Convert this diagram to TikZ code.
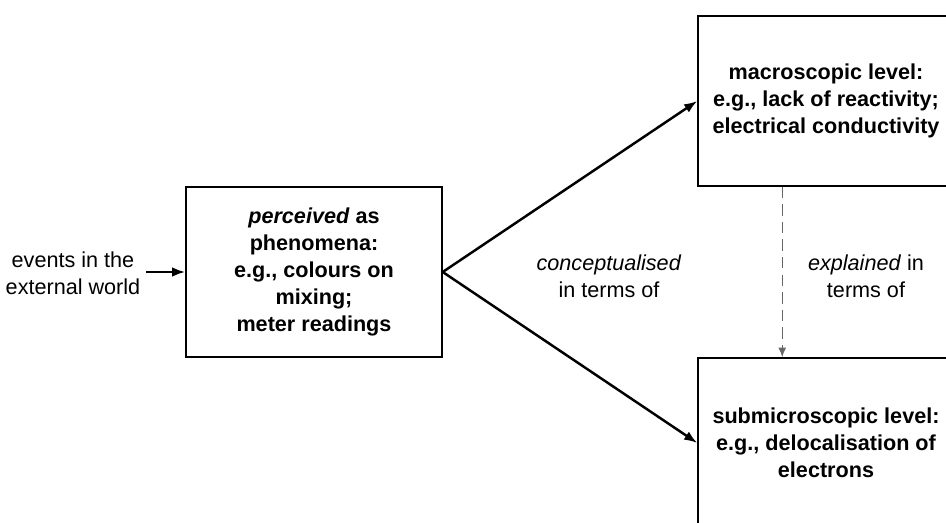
\documentclass[tikz,border=0pt]{standalone}
\usepackage{fontspec}
\setmainfont{Liberation Sans}
\usetikzlibrary{calc, arrows.meta}

\tikzset{
    levelbox/.style={draw, line width=0.85pt, minimum width=5.12cm, minimum height=3.4cm,
        align=center, font=\bfseries\fontsize{12.3}{15.3}\selectfont},
    plain/.style={align=center, font=\fontsize{12.3}{15.3}\selectfont},
    arrow/.style={line width=1.4pt, -{Latex[length=7.5pt, width=5.5pt]}},
    dasharrow/.style={line width=0.8pt, draw=black!60, dash pattern=on 6.5pt off 3.5pt,
        -{Latex[length=5.5pt, width=4.5pt]}}
}

\begin{document}
\begin{tikzpicture}[x=0.02cm, y=-0.02cm]
    \useasboundingbox (0,0) rectangle (946,523);
    \clip (0,0) rectangle (946,523);

    % boxes
    \node[levelbox] (pbox) at (314, 272) {\textit{perceived} as\\ phenomena:\\ e.g., colours on\\ mixing;\\ meter readings};
    \node[levelbox] (mbox) at (826, 101) {macroscopic level:\\ e.g., lack of reactivity;\\ electrical conductivity};
    \node[levelbox] (sbox) at (826, 443) {submicroscopic level:\\ e.g., delocalisation of\\ electrons};

    % labels
    \node[plain] (events) at (73, 273) {events in the\\ external world};
    \node[plain] (concept) at (609, 276) {\textit{conceptualised}\\ in terms of};
    \node[plain] (explain) at (866, 276) {\textit{explained} in\\ terms of};

    % connectors
    \draw[arrow] (events.east |- pbox.west) -- (pbox.west);
    \draw[arrow] (pbox.east) -- (mbox.west);
    \draw[arrow] (pbox.east) -- (sbox.west);
    \draw[dasharrow] ($(mbox.south west)!0.33!(mbox.south east)$) -- ($(sbox.north west)!0.33!(sbox.north east)$);
\end{tikzpicture}
\end{document}
